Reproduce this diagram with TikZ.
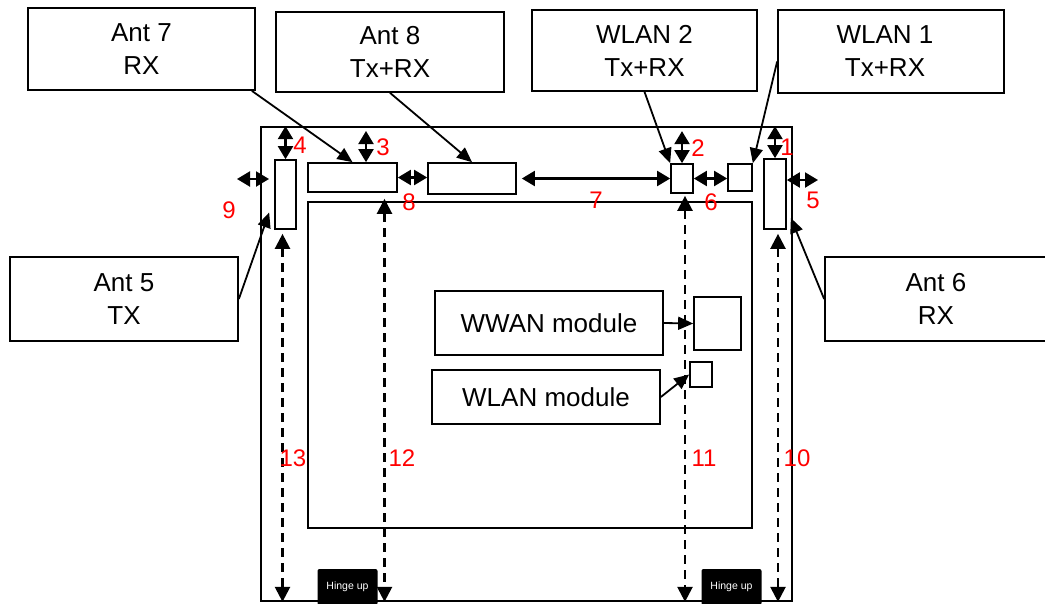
\documentclass[tikz,border=0pt]{standalone}
\usepackage{fontspec}
\setmainfont{Liberation Sans}
\usetikzlibrary{arrows.meta}
\begin{document}
\begin{tikzpicture}[x=1pt, y=-1pt,
    antbox/.style={rectangle, draw=black, line width=1.7pt, fill=white, align=center,
                   inner sep=0pt, font=\fontsize{26}{33}\selectfont},
    part/.style={rectangle, draw=black, line width=1.7pt, inner sep=0pt},
    hinge/.style={rectangle, rounded corners=2pt, fill=black, text=white, inner sep=0pt,
                  minimum width=60pt, minimum height=36pt, font=\fontsize{10.5}{10.5}\selectfont},
    num/.style={text=red, inner sep=0pt, font=\fontsize{24}{24}\selectfont},
    feed/.style={-{Triangle[length=15pt,width=13pt]}, line width=1.8pt},
    dbl/.style={{Triangle[length=13pt,width=15pt]}-{Triangle[length=13pt,width=15pt]}, line width=2.2pt},
    dsh/.style={{Triangle[length=15pt,width=15pt]}-{Triangle[length=15pt,width=15pt]},
                line width=2.4pt, dash pattern=on 9pt off 6pt}
]
\useasboundingbox (0,0) rectangle (1045,603);

%% Antenna boxes outside the frame %%
\node[antbox, minimum width=227pt, minimum height=82pt] (ant7)  at (141.5,49)  {Ant 7\\RX};
\node[antbox, minimum width=228pt, minimum height=80pt] (ant8)  at (390,52)    {Ant 8\\Tx+RX};
\node[antbox, minimum width=225pt, minimum height=81pt] (wlan2) at (644.5,50.5) {WLAN 2\\Tx+RX};
\node[antbox, minimum width=226pt, minimum height=83pt] (wlan1) at (891,51.5)  {WLAN 1\hspace*{12pt}\\Tx+RX\hspace*{12pt}};
\node[antbox, minimum width=228pt, minimum height=84pt] (ant5)  at (124,299)   {Ant 5\\TX};
\node[antbox, minimum width=222pt, minimum height=84pt] (ant6)  at (936,299)   {Ant 6\\RX};

%% Lid frame and panel %%
\node[part, minimum width=531pt, minimum height=474pt] (frame) at (526.5,364) {};
\node[part, minimum width=444pt, minimum height=326pt] (inner) at (530,365) {};

% Antenna elements
\node[part, minimum width=21pt, minimum height=69pt] (e5) at (285.5,194.5) {};
\node[part, minimum width=89pt, minimum height=29pt] (e7) at (352.5,177.5) {};
\node[part, minimum width=88pt, minimum height=31pt] (e8) at (472,178.5) {};
\node[part, minimum width=22pt, minimum height=29pt] (w2) at (682,178.5) {};
\node[part, minimum width=24pt, minimum height=27pt] (w1) at (740,177.5) {};
\node[part, minimum width=22pt, minimum height=70pt] (e6) at (775,194) {};

% Modules
\node[antbox, minimum width=228pt, minimum height=64pt] (wwanmod) at (549,323) {WWAN module};
\node[antbox, minimum width=228pt, minimum height=54pt] (wlanmod) at (546,397) {WLAN module};
\node[part, minimum width=47pt, minimum height=53pt] (wwanel) at (717.5,323.5) {};
\node[part, minimum width=22pt, minimum height=25pt] (wlanel) at (701,374.5) {};

% Hinges
\node[hinge] (hingeL) at (347.5,587) {Hinge up};
\node[hinge] (hingeR) at (731.5,587) {Hinge up};

%% Feed lines %%
\draw[feed] ([xshift=-4pt]ant7.south east) -- (e7.north);
\draw[feed] (ant8.south) -- (e8.north);
\draw[feed] (wlan2.south) -- (w2.north west);
\draw[feed] ([yshift=-10pt]wlan1.west) -- (w1.north east);
\draw[feed] (ant5.east) -- ([xshift=-5pt,yshift=-18pt]e5.west);
\draw[feed] (ant6.west) -- ([xshift=4pt,yshift=-24pt]e6.east);
\draw[feed] (wwanmod.east) -- (wwanel.west);
\draw[feed] (wlanmod.east) -- (wlanel.west);

%% Clearances %%
\draw[dbl] (e5.north |- frame.north) -- (e5.north);
\coordinate (top3) at (366,131);
\draw[dbl] (top3) -- (top3 |- e7.north);
\coordinate (left9) at (237,179);
\draw[dbl] (left9) -- ++(32,0);
\draw[dbl] (e7.east) -- (e7.east -| e8.west);
\draw[dbl, shorten <=5pt] (e8.east) -- (e8.east -| w2.west);
\draw[dbl] (w2.north) -- ++(0,-32);
\draw[dbl] (w2.east) -- (w2.east -| w1.west);
\draw[dbl] (e6.north) -- (e6.north |- frame.north);
\coordinate (right5) at (818,180);
\draw[dbl] (right5) -- (right5 -| e6.east);

% Distances to the hinge edge
\draw[dsh, shorten <=4pt] ([xshift=-3pt]e5.south) -- ([xshift=-3pt]e5.south |- frame.south);
\draw[dsh, shorten <=6pt] ([xshift=32pt]e7.south) -- ([xshift=32pt]e7.south |- frame.south);
\draw[dsh, shorten <=2pt] ([xshift=3pt]w2.south) -- ([xshift=3pt]w2.south |- frame.south);
\draw[dsh, shorten <=4pt] ([xshift=3pt]e6.south) -- ([xshift=3pt]e6.south |- frame.south);

%% Numbers %%
\node[num] (n1)  at (787,147) {1};
\node[num] (n2)  at (698,148) {2};
\node[num] (n3)  at (383,147) {3};
\node[num] (n4)  at (300,145) {4};
\node[num] (n5)  at (813,200) {5};
\node[num] (n6)  at (711,202) {6};
\node[num] (n7)  at (596,200) {7};
\node[num] (n8)  at (409,202) {8};
\node[num] (n9)  at (229,210) {9};
\node[num] (n10) at (797,458) {10};
\node[num] (n11) at (704,458) {11};
\node[num] (n12) at (402,458) {12};
\node[num] (n13) at (293,458) {13};

\end{tikzpicture}
\end{document}
